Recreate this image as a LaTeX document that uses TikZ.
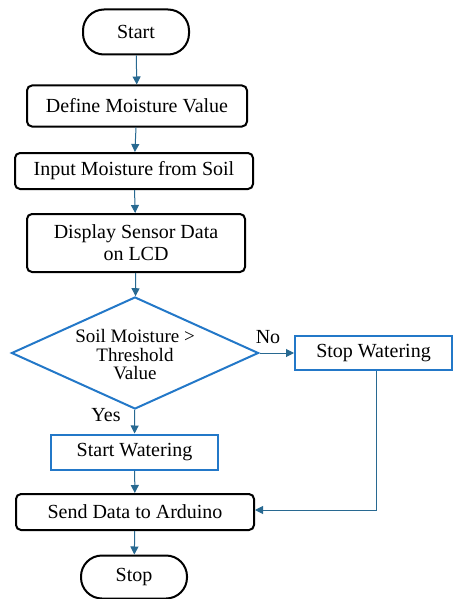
\documentclass[tikz,border=0pt]{standalone}
\usepackage{fontspec}
\setmainfont{Liberation Serif}
\usetikzlibrary{shapes.geometric,arrows.meta}
\definecolor{flowline}{RGB}{40,105,145}
\definecolor{boxblue}{RGB}{35,120,200}
\begin{document}
\begin{tikzpicture}[
        x=1pt, y=-1pt,
        every node/.style={font=\fontsize{20}{22}\selectfont, align=center, inner sep=0pt},
        termn/.style={draw, line width=2pt, rounded corners=21pt, minimum width=106pt, minimum height=45pt},
        procn/.style={draw, line width=2pt, rounded corners=5pt},
        bluen/.style={draw=boxblue, line width=2pt},
        decn/.style={draw=boxblue, line width=2pt, diamond, minimum width=247pt, minimum height=112pt},
        flow/.style={draw=flowline, line width=1pt, -{Triangle[length=8pt,width=8pt]}},
        lbl/.style={font=\fontsize{20}{22}\selectfont},
    ]
    \useasboundingbox (0,0) rectangle (453,599);
    \node[termn](start) at (136,32){Start};
    \node[procn, minimum width=220pt, minimum height=41pt](define) at (137,106){Define Moisture Value};
    \node[procn, minimum width=238pt, minimum height=36pt](input) at (134,171){Input Moisture from Soil};
    \node[procn, minimum width=218pt, minimum height=58pt](display) at (136,243){Display Sensor Data\\on LCD};
    \node[decn](check) at (135,353){};
    \node[font=\fontsize{19}{18.5}\selectfont] at (135,355){Soil Moisture >\\Threshold\\Value};
    \node[bluen, minimum width=157pt, minimum height=34pt](stopw) at (373.5,353){Stop Watering};
    \node[bluen, minimum width=167pt, minimum height=35pt](startw) at (134.5,452){Start Watering};
    \node[procn, minimum width=238pt, minimum height=36pt](send) at (135,512){Send Data to Arduino};
    \node[termn, minimum height=43pt](stop) at (134,577){Stop};
    \node[lbl](yes) at (106,415){Yes};
    \node[lbl](no) at (268,337){No};
    \coordinate (turn) at (376,510);

    \draw[flow] (start) -- (define);
    \draw[flow] (define) -- (input);
    \draw[flow] (input) -- (display);
    \draw[flow] (display) -- (check);
    \draw[flow] (check) -- (stopw);
    \draw[flow] (check) -- (startw);
    \draw[flow] (startw) -- (send);
    \draw[flow] (stopw.south -| turn) -- (turn) -- (send.east |- turn);
    \draw[flow] (send) -- (stop);
\end{tikzpicture}
\end{document}
